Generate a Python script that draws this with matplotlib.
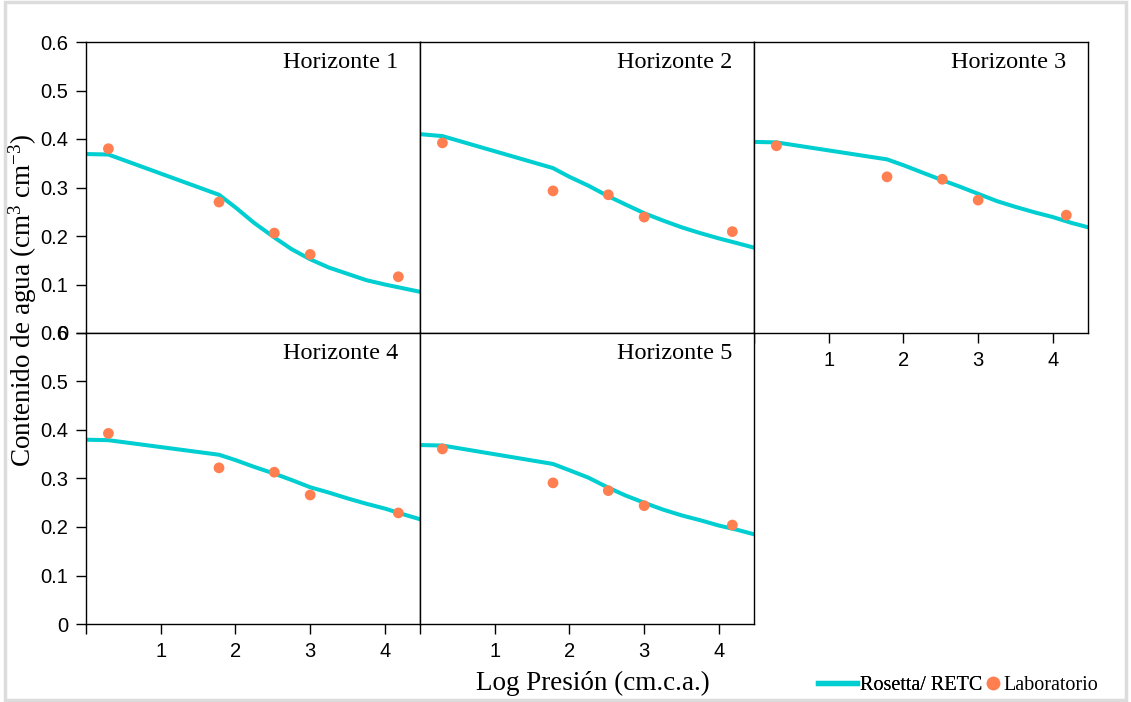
import matplotlib
matplotlib.use("Agg")
import matplotlib.pyplot as plt
from matplotlib.lines import Line2D
from matplotlib.patches import Rectangle

plt.rcParams['font.family'] = ['Liberation Sans', 'DejaVu Sans']
plt.rcParams['mathtext.fontset'] = 'custom'
plt.rcParams['mathtext.rm'] = 'Liberation Serif'
plt.rcParams['mathtext.it'] = 'Liberation Serif:italic'

# log10 of suction (cm water column) for lab measurements
lab_x = [0.30, 1.78, 2.52, 3.00, 4.18]
# points where the Rosetta/RETC curve was sampled
curve_x = [0.0, 0.30, 1.78, 2.0, 2.25, 2.52, 2.75, 3.0, 3.25, 3.5, 3.75, 4.0, 4.25, 4.47]

titles = ["Horizonte 1", "Horizonte 2", "Horizonte 3", "Horizonte 4", "Horizonte 5"]

lab_h1 = [0.380, 0.270, 0.206, 0.162, 0.116]
lab_h2 = [0.392, 0.293, 0.285, 0.239, 0.209]
lab_h3 = [0.386, 0.322, 0.317, 0.274, 0.243]
lab_h4 = [0.393, 0.322, 0.313, 0.266, 0.229]
lab_h5 = [0.361, 0.291, 0.275, 0.244, 0.204]

ros_h1 = [0.369, 0.368, 0.285, 0.259, 0.227, 0.197, 0.173, 0.152, 0.135, 0.122, 0.109, 0.100, 0.092, 0.085]
ros_h2 = [0.410, 0.406, 0.340, 0.322, 0.304, 0.282, 0.265, 0.247, 0.232, 0.218, 0.206, 0.195, 0.185, 0.176]
ros_h3 = [0.394, 0.393, 0.358, 0.346, 0.331, 0.315, 0.302, 0.287, 0.272, 0.260, 0.249, 0.239, 0.227, 0.218]
ros_h4 = [0.380, 0.379, 0.349, 0.338, 0.324, 0.310, 0.297, 0.282, 0.271, 0.259, 0.248, 0.238, 0.226, 0.216]
ros_h5 = [0.369, 0.368, 0.330, 0.317, 0.302, 0.281, 0.265, 0.250, 0.236, 0.224, 0.214, 0.203, 0.194, 0.185]

lab = [lab_h1, lab_h2, lab_h3, lab_h4, lab_h5]
ros = [ros_h1, ros_h2, ros_h3, ros_h4, ros_h5]

yticks = [0, 0.1, 0.2, 0.3, 0.4, 0.5, 0.6]
ytick_labels = ["0", "0.1", "0.2", "0.3", "0.4", "0.5", "0.6"]
xticks = [0, 1, 2, 3, 4]
xtick_labels = ["", "1", "2", "3", "4"]

LINE_C = '#00CED1'
DOT_C = '#FF7F50'
SERIF = 'Liberation Serif'

W, H = 1131, 702
fig = plt.figure(figsize=(W / 100, H / 100), dpi=100)
fig.patches.append(Rectangle((0.004, 0.003), 0.992, 0.994, transform=fig.transFigure,
                             fill=False, edgecolor='#dcdcdc', linewidth=2.5))

left, pw = 86, 334
tops = [42, 333]
ph = 291

# (row, col) for each horizon
cells = [(0, 0), (0, 1), (0, 2), (1, 0), (1, 1)]
for i, (r, c) in enumerate(cells):
    x0 = left + c * pw
    y0 = tops[r] + ph
    ax = fig.add_axes([x0 / W, 1 - y0 / H, pw / W, ph / H])
    ax.plot(curve_x, ros[i], color=LINE_C, lw=2.9, zorder=2, solid_joinstyle='round')
    ax.scatter(lab_x, lab[i], s=60, color=DOT_C, edgecolor='none', zorder=3)
    ax.set_xlim(0, 4.47)
    ax.set_ylim(0, 0.6)
    for s in ax.spines.values():
        s.set_linewidth(1.0)
        s.set_color('black')
    ax.text(0.935, 0.91, titles[i], transform=ax.transAxes, ha='right', va='baseline',
            fontsize=17.5, family=SERIF)

    if c == 0:
        ax.set_yticks(yticks)
        ax.set_yticklabels(ytick_labels)
    else:
        ax.set_yticks([])
    if r == 1 or c == 2:
        ax.set_xticks(xticks)
        ax.set_xticklabels(xtick_labels)
    else:
        ax.set_xticks([])
    ax.tick_params(direction='out', length=7, width=1.0, labelsize=14.5, pad=6, colors='black')

fig.text(23 / W, 1 - 300 / H, r'Contenido de agua (cm$^{3}$ cm$^{-3}$)', rotation=90,
         ha='center', va='center', fontsize=19.5, family=SERIF)
fig.text(593 / W, 1 - 690 / H, 'Log Presión (cm.c.a.)', ha='center', va='baseline',
         fontsize=19.5, family=SERIF)

leg_kw = dict(loc='center left', frameon=False, borderpad=0, borderaxespad=0,
              handletextpad=0.15, prop={'family': SERIF, 'size': 14.5})
line_h = Line2D([], [], color=LINE_C, lw=3.8)
dot_h = Line2D([], [], color=DOT_C, marker='o', ls='none', markersize=10, markeredgewidth=0)
leg1 = fig.legend([line_h], ['Rosetta/ RETC'], bbox_to_anchor=(818 / W, 1 - 685 / H),
                  handlelength=1.95, **leg_kw)
fig.add_artist(leg1)
fig.legend([dot_h], ['Laboratorio'], bbox_to_anchor=(986 / W, 1 - 685 / H),
           handlelength=0.7, **leg_kw)

fig.savefig('out.png', dpi=100)
